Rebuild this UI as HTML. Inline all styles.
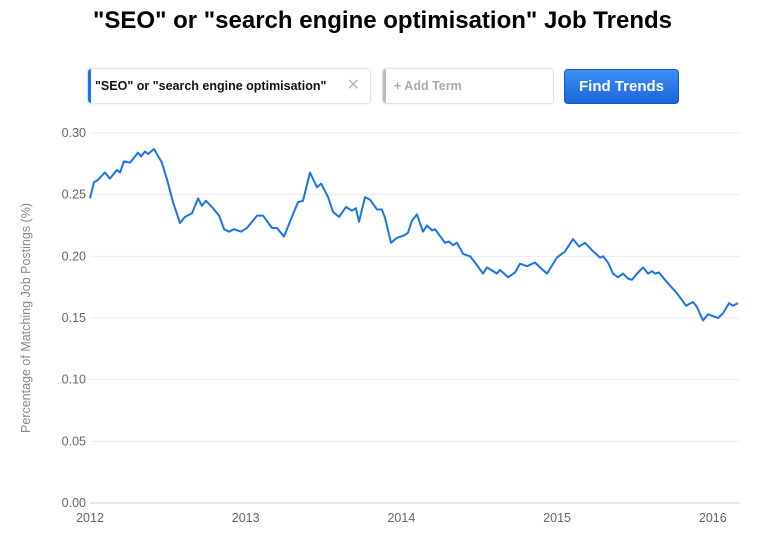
<!DOCTYPE html>
<html><head><meta charset="utf-8"><style>
body{margin:0;width:765px;height:537px;background:#fff;font-family:"Liberation Sans",Arial,sans-serif;position:relative;overflow:hidden}
.title{position:absolute;left:0;width:765px;top:7px;text-align:center;font-size:24px;font-weight:bold;color:#000}
.term{position:absolute;top:69px;left:88px;width:282px;height:34px;border-radius:3px;box-shadow:0 0 2px rgba(0,0,0,.35);border-left:3px solid #1a73e8;box-sizing:border-box;font-size:12.5px;font-weight:bold;line-height:34px;padding-left:4px;color:#111}
.term span{position:absolute;right:10px;color:#bbb;font-weight:normal;font-size:16px}
.add{position:absolute;top:69px;left:383px;width:170px;height:34px;border-radius:3px;box-shadow:0 0 2px rgba(0,0,0,.35);border-left:3px solid #bbb;box-sizing:border-box;font-size:12.5px;font-weight:bold;line-height:34px;padding-left:8px;color:#aaa}
.btn{position:absolute;top:69px;left:564px;width:115px;height:35px;border-radius:4px;background:linear-gradient(#3d8ef5,#1a66dd);border:1px solid #1558c0;box-sizing:border-box;color:#fff;font-size:15px;font-weight:bold;text-align:center;line-height:33px}
</style></head><body>
<div class="title">"SEO" or "search engine optimisation" Job Trends</div>
<div class="term">"SEO" or "search engine optimisation"<span>✕</span></div>
<div class="add">+ Add Term</div>
<div class="btn">Find Trends</div>
<svg id="chart" width="765" height="537" style="position:absolute;left:0;top:0"></svg>
<script>
const yearTicks=[2012,2013,2014,2015,2016];
const yTicks=[0,0.05,0.10,0.15,0.20,0.25,0.30];
const times=[0,.026,.051,.096,.128,.173,.193,.218,.257,.308,.328,.353,.373,.411,.462,.495,.533,.578,.610,.655,.694,.719,.745,.790,.829,.861,.893,.925,.970,1.008,1.073,1.111,1.169,1.201,1.246,1.297,1.336,1.368,1.413,1.458,1.484,1.529,1.561,1.599,1.644,1.683,1.708,1.728,1.766,1.798,1.843,1.875,1.895,1.933,1.972,2.017,2.042,2.068,2.100,2.139,2.164,2.197,2.216,2.280,2.306,2.331,2.357,2.396,2.441,2.473,2.524,2.550,2.614,2.633,2.685,2.730,2.762,2.807,2.858,2.890,2.935,2.999,3.051,3.102,3.141,3.179,3.224,3.276,3.295,3.327,3.359,3.391,3.423,3.455,3.481,3.513,3.552,3.584,3.610,3.629,3.654,3.706,3.770,3.828,3.873,3.898,3.937,3.969,4.034,4.066,4.104,4.130,4.162];
const values=[.247,.260,.262,.268,.263,.270,.268,.277,.276,.284,.281,.285,.283,.287,.276,.262,.244,.227,.232,.235,.247,.241,.245,.239,.233,.222,.220,.222,.220,.223,.233,.233,.223,.223,.216,.232,.244,.245,.268,.256,.259,.248,.236,.232,.240,.237,.239,.228,.248,.246,.238,.238,.231,.211,.215,.217,.219,.229,.234,.220,.225,.221,.222,.211,.212,.209,.211,.202,.200,.195,.186,.191,.186,.189,.183,.187,.194,.192,.195,.191,.186,.199,.204,.214,.208,.211,.205,.199,.200,.195,.186,.183,.186,.182,.181,.186,.191,.186,.188,.186,.187,.179,.170,.160,.163,.159,.148,.153,.150,.154,.162,.160,.162];
const svg=document.getElementById('chart');
const NS='http://www.w3.org/2000/svg';
const X0=90,XW=155.7,Y0=503,YH=1233.3;
function sx(t){return X0+t*XW;}
function sy(v){return Y0-v*YH;}
function mk(tag,attrs){const e=document.createElementNS(NS,tag);for(const k in attrs)e.setAttribute(k,attrs[k]);svg.appendChild(e);return e;}
yTicks.forEach((v,i)=>{
  const g=mk('line',{x1:90,x2:740,y1:sy(v),y2:sy(v),stroke:i==0?'#ccc':'#ebebeb','stroke-width':1});
  
  
  const t=mk('text',{x:86,y:sy(v)+4,'text-anchor':'end','font-size':12.5,fill:'#666','font-family':'Liberation Sans, sans-serif'});
  t.textContent=v.toFixed(2);
  
  
});
yearTicks.forEach(y=>{
  const t=mk('text',{x:sx(y-2012),y:522,'text-anchor':'middle','font-size':12.5,fill:'#666','font-family':'Liberation Sans, sans-serif'});
  t.textContent=y;
  
  
});
const yt=mk('text',{x:0,y:0,transform:'translate(30,318) rotate(-90)','text-anchor':'middle','font-size':12.5,fill:'#888','font-family':'Liberation Sans, sans-serif'});
yt.textContent='Percentage of Matching Job Postings (%)';


const d=times.map((t,i)=>(i?'L':'M')+sx(t).toFixed(1)+','+sy(values[i]).toFixed(1)).join('');
const p=mk('path',{d:d,fill:'none',stroke:'#1a73e8','stroke-width':2,'stroke-linejoin':'round'});


</script>
</body></html>
